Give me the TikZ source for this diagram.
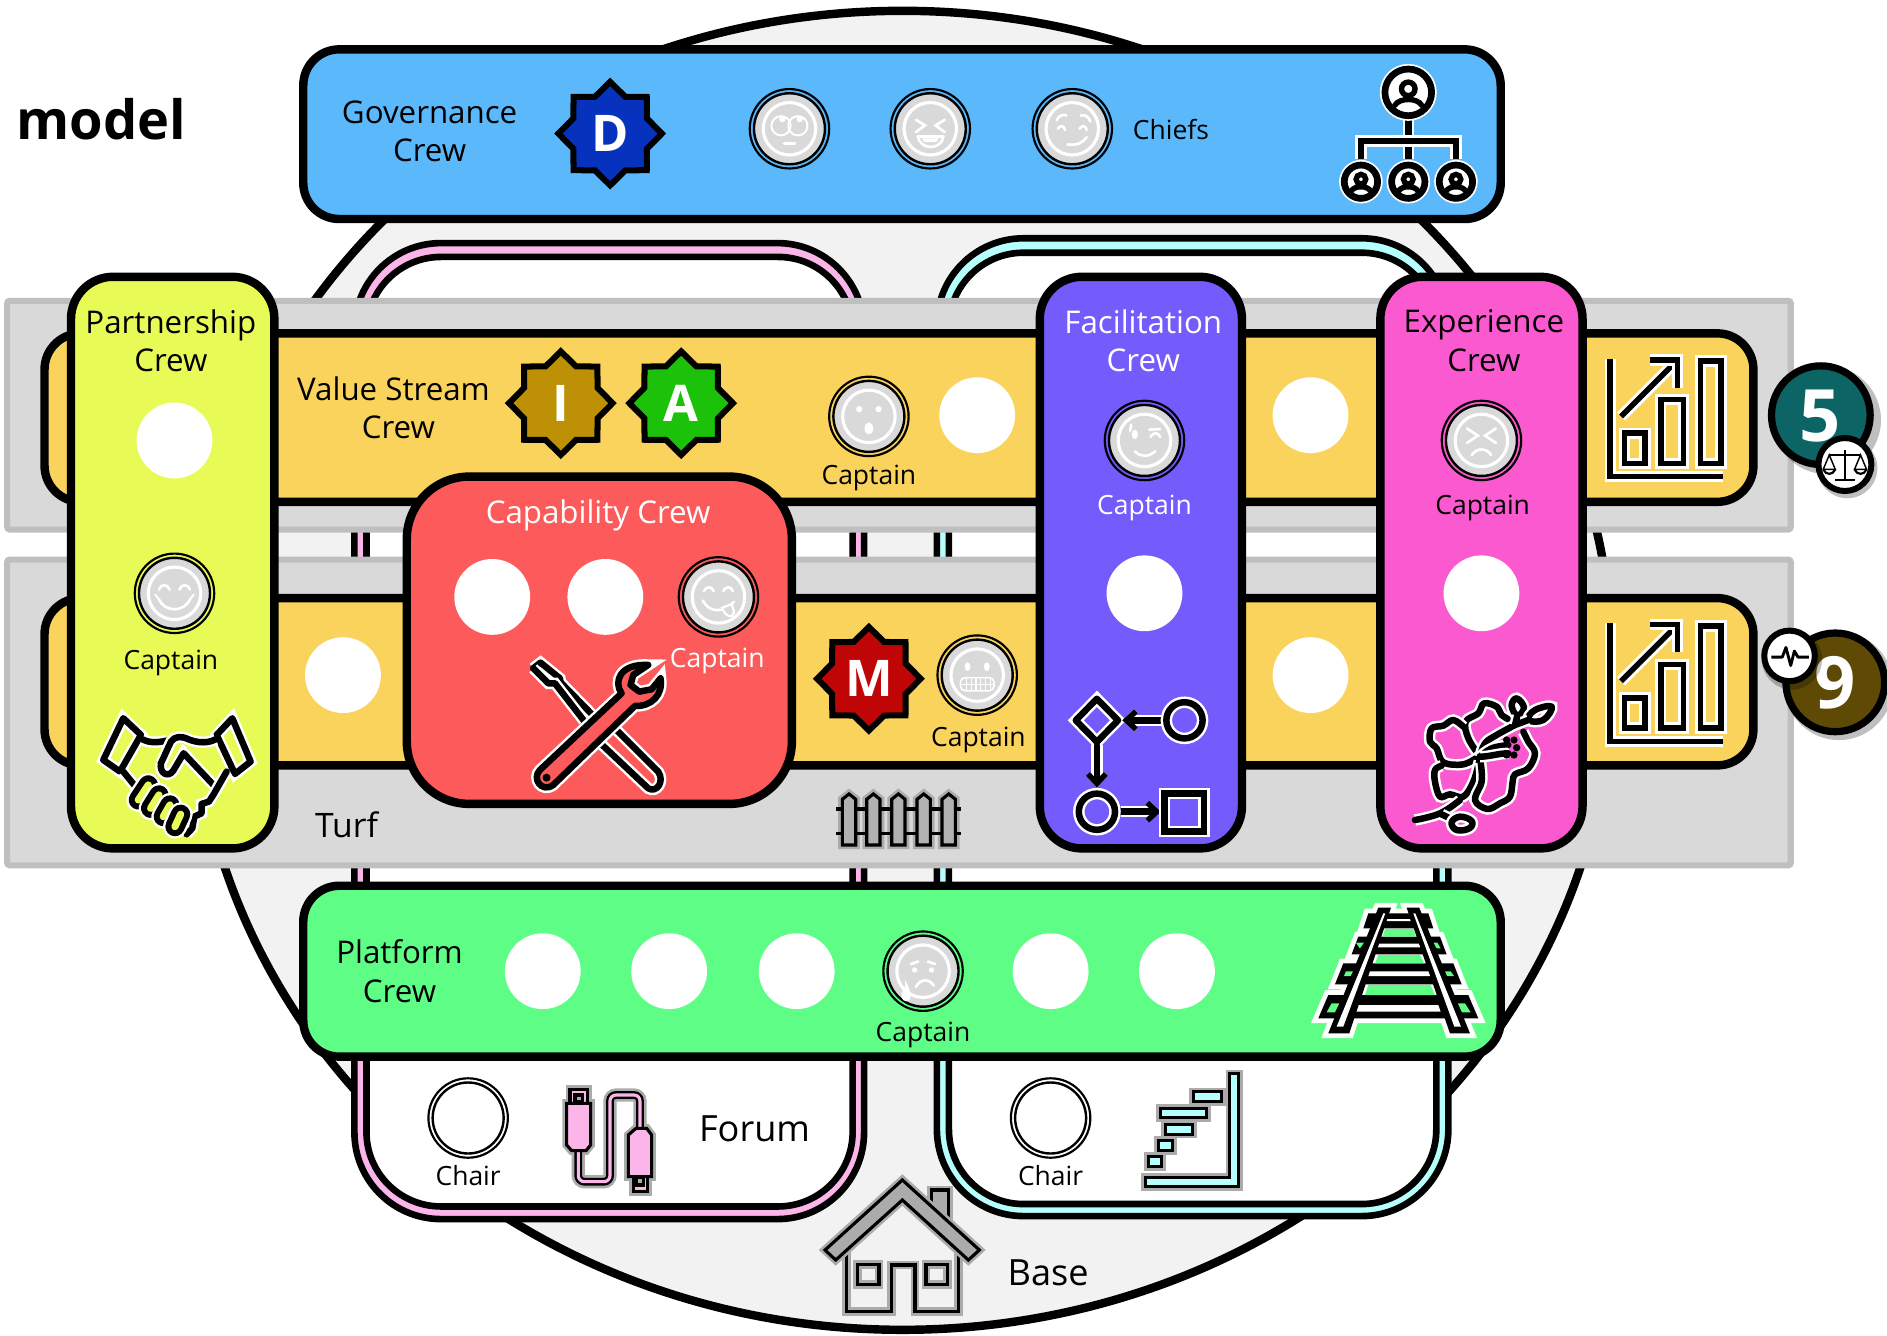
\documentclass[tikz,border=0pt]{standalone}
\usepackage{fontspec}
\setmainfont{Open Sans}
\usetikzlibrary{shapes.geometric,arrows.meta}
\definecolor{govc}{HTML}{5BB9FB}
\definecolor{platc}{HTML}{5EFD86}
\definecolor{partc}{HTML}{E8FA55}
\definecolor{capc}{HTML}{FD5B5B}
\definecolor{facc}{HTML}{745CFC}
\definecolor{expc}{HTML}{FB59CF}
\definecolor{strc}{HTML}{F9D35B}
\definecolor{turfc}{HTML}{D9D9D9}
\definecolor{turfb}{HTML}{BFBFBF}
\definecolor{basec}{HTML}{F2F2F2}
\definecolor{pinkc}{HTML}{FBB5E9}
\definecolor{cyanc}{HTML}{B5FFFD}
\definecolor{coinc}{HTML}{D9D9D9}
\definecolor{glowg}{HTML}{ABABAB}
\tikzset{
 crew/.style={draw=black,line width=7,rounded corners=#1},
 crew/.default=30,
 turfband/.style={fill=turfc,draw=turfb,line width=5,rounded corners=2},
 lbl/.style={inner sep=0,align=center,font=\fontsize{26}{32}\selectfont},
 small/.style={inner sep=0,font=\fontsize{22}{26}\selectfont},
 blankc/.style={fill=white,draw=none},
 starb/.style={star,star points=8,star point ratio=1.3,minimum size=86,inner sep=0,draw=black,line width=5,text=white,font=\fontsize{42}{42}\selectfont\bfseries},
 icon/.style={draw=black,line width=5.4,line join=round,line cap=round,preaction={draw=white,line width=9.5}},
 gicon/.style={draw=black,line width=2.6,line join=miter,preaction={draw=glowg,line width=7}},
 fw/.style={draw=white,line width=2.2,line cap=round},
 fb/.style={fill=white,draw=none},
 tip/.style={-{Straight Barb[length=8pt,width=15pt,line width=4.6pt]}},
}
\newcommand{\coin}[2]{\begin{scope}[shift={#1}]
 \draw[black,line width=1.8] (0,0) circle[radius=33];
 \draw[black,line width=2,fill=coinc] (0,0) circle[radius=29.5];
 \draw[white,line width=2.6] (0,0) circle[radius=21.8];
 #2
\end{scope}}
\newcommand{\chairc}[1]{\begin{scope}[shift={#1}]
 \draw[black,line width=1.8] (0,0) circle[radius=33];
 \draw[black,line width=2] (0,0) circle[radius=29.5];
\end{scope}}
\newcommand{\person}[3]{\begin{scope}[shift={#1},scale=#2]
 \draw[white,line width=8.5] (0,0) circle[radius=1];
 \draw[black,fill=white,line width=#3] (0,0) circle[radius=1];
 \draw[black,line width=#3*.8] (0,-.15) circle[radius=.29];
 \draw[black,line width=#3*.8,line cap=round] (-.58,.56) .. controls (-.4,.22) and (.4,.22) .. (.58,.56);
\end{scope}}
\newcommand{\chart}[1]{\begin{scope}[shift={#1},icon/.append style={line width=4.6,preaction={draw=white,line width=8}}]
 \draw[icon,line cap=butt,line join=miter] (1338,298) -- (1338,396) -- (1432,396);
 \draw[icon,line cap=butt,line join=miter] (1350,360) rectangle (1367,385);
 \draw[icon,line cap=butt,line join=miter] (1380,332) rectangle (1399,385);
 \draw[icon,line cap=butt,line join=miter] (1413,300) rectangle (1430,385);
 \draw[icon,line cap=butt] (1347,346) -- (1392,301);
 \draw[icon,line cap=butt,line join=miter] (1371,299) -- (1394,299) -- (1394,322);
\end{scope}}
\begin{document}
\begin{tikzpicture}[x=1pt,y=-1pt]
\useasboundingbox (0,0) rectangle (1568,1110);
\fill[white] (0,0) rectangle (1568,1110);
% base
\draw[fill=basec,draw=black,line width=7] (750,557) ellipse [x radius=590,y radius=548];
% forums
\draw[fill=pinkc,draw=black,line width=5.5,rounded corners=72] (294.5,202) rectangle (718,1013);
\draw[fill=white,draw=black,line width=5.5,rounded corners=62] (304.5,213.5) rectangle (708.5,1002.5);
\draw[fill=cyanc,draw=black,line width=5.5,rounded corners=72] (778.5,198) rectangle (1203.5,1010.5);
\draw[fill=white,draw=black,line width=5.5,rounded corners=62] (788.5,210) rectangle (1193.5,1000.5);
% turf
\draw[turfband] (6,250) rectangle (1488,440);
\draw[turfband] (6,465) rectangle (1488,719);
% streams
\draw[crew,fill=strc] (37,277) rectangle (1457,417);
\draw[crew,fill=strc] (37,497) rectangle (1457,636);
% crews
\draw[crew,fill=govc] (252,41) rectangle (1247,182);
\draw[crew,fill=platc] (252,736) rectangle (1247,878);
\draw[crew=35,fill=partc] (59,230) rectangle (228,705);
\draw[crew=52,fill=capc] (338,396) rectangle (658,668);
\draw[crew=35,fill=facc] (864,230) rectangle (1032,705);
\draw[crew=35,fill=expc] (1147,230) rectangle (1315,705);
% texts
\node[inner sep=0,font=\fontsize{45}{45}\selectfont\bfseries] (model) at (84,99) {model};
\node[lbl] (gov) at (357,109) {Governance\\Crew};
\node[lbl] (vs) at (327,339) {Value Stream\\\hspace*{8pt}Crew};
\node[lbl] (part) at (142,283) {Partnership\\Crew};
\node[lbl,text=white] (cap) at (497,428) {Capability Crew};
\node[lbl,text=white] (fac) at (950,283) {Facilitation\\Crew};
\node[lbl] (exp) at (1233,283) {Experience\\Crew};
\node[lbl] (plat) at (332,807) {Platform\\Crew};
\node[lbl,font=\fontsize{28}{32}\selectfont] (turf) at (288,685) {Turf};
\node[lbl,font=\fontsize{30}{32}\selectfont] (forum) at (627,938) {Forum};
\node[lbl,font=\fontsize{30}{32}\selectfont] (base) at (871,1058) {Base};
\node[small] (chiefs) at (973,108) {Chiefs};
\node[small] (c1) at (722,397) {Captain};
\node[small] (c2) at (142,551) {Captain};
\node[small,text=white] (c3) at (596,549) {Captain};
\node[small] (c4) at (813,615) {Captain};
\node[small,text=white] (c5) at (951,422) {Captain};
\node[small] (c6) at (1232,422) {Captain};
\node[small] (c7) at (767,860) {Captain};
\node[small] (ch1) at (389,977) {Chair};
\node[small] (ch2) at (873,977) {Chair};
% stars
\node[starb,fill={rgb,255:red,6;green,50;blue,190}] (sd) at (507,111) {D};
\node[starb,fill={rgb,255:red,190;green,144;blue,5}] (si) at (466,335) {I};
\node[starb,fill={rgb,255:red,28;green,193;blue,10}] (sa) at (566,335) {A};
\node[starb,fill={rgb,255:red,191;green,5;blue,5}] (sm) at (722,564) {M};
% blank seats
\foreach \p in {(145,366),(812,345),(1089,345),(285,561),(1089,561),(409,496),(503,496),(951,493),(1231,493),(451,807),(556,807),(662,807),(873,807),(978,807)}
 \fill[blankc] \p circle[radius=31.5];
% coins
\coin{(656,107)}{\draw[fw,line width=1.6] (-7,-2.5) circle[radius=8]; \draw[fw,line width=1.6] (7,-2.5) circle[radius=8];
 \fill[fb] (-6,-8) circle[radius=2.6]; \fill[fb] (8.5,-8) circle[radius=2.6]; \draw[fw] (-4.5,12) -- (4.5,12);}
\coin{(773,107)}{\draw[fw] (-12,-7.5) -- (-4.4,-2.8) -- (-12,2.8); \draw[fw] (12,-7.5) -- (4.4,-2.8) -- (12,2.8);
 \draw[fw,line join=round] (-10.5,6.4) -- (11,6.4) .. controls (9,18) and (-8,18) .. (-10.5,6.4); \fill[fb] (-7,8) -- (7,8) -- (5,11) -- (-5,11) -- cycle;}
\coin{(891,107)}{\draw[fw] (-13,-7) .. controls (-11,-12) and (-6,-12) .. (-5,-11); \draw[fw] (7,-11) .. controls (10,-12) and (14,-10) .. (15,-6);
 \draw[fw] (-12,0) .. controls (-10,-3) and (-7,-3) .. (-6,1); \draw[fw] (6,0) .. controls (8,-3) and (11,-3) .. (12,1);
 \draw[fw] (-4,13) .. controls (3,14) and (9,12) .. (12,7);}
\coin{(722,346)}{\fill[fb] (-8,-6) circle[radius=2.6]; \fill[fb] (8,-6) circle[radius=2.6]; \fill[fb] (0,10) ellipse[x radius=3.6,y radius=5];}
\coin{(145,493)}{\draw[fw] (-13,-3) .. controls (-11,-8) and (-6,-8) .. (-4,-3); \draw[fw] (4,-3) .. controls (6,-8) and (11,-8) .. (13,-3);
 \draw[fw] (-13,5) .. controls (-8,16) and (8,16) .. (13,5); \draw[fw,line width=1.6] (-16,1) -- (-13,5); \draw[fw,line width=1.6] (16,1) -- (13,5);}
\coin{(597,496)}{\draw[fw] (-12,-5) .. controls (-10,-9) and (-6,-9) .. (-4,-5); \draw[fw] (4,-5) .. controls (6,-9) and (10,-9) .. (12,-5);
 \draw[fw] (-13,3) .. controls (-8,13) and (4,14) .. (13,4); \draw[fw,fill=coinc,line width=1.8] (3,9) -- (11,6) -- (13,13) .. controls (12,18) and (6,17) .. cycle;}
\coin{(812,561)}{\fill[fb] (-8,-7) ellipse[x radius=2.4,y radius=3.6]; \fill[fb] (8,-7) ellipse[x radius=2.4,y radius=3.6];
 \draw[fw,line width=1.3,rounded corners=4] (-14,2) rectangle (14,13); \foreach \q in {-9,-5,-1,3,7,11} \draw[fw,line width=.9] (\q,3) -- (\q,12); \draw[fw,line width=.9] (-14,7.5) -- (14,7.5);}
\coin{(951,366)}{\draw[fw] (-11,-13) -- (-12,-8); \fill[fb] (-8,-5) ellipse[x radius=2.6,y radius=4]; \draw[fw] (4,-9) -- (13,-9.5);\draw[fw] (5,-3) .. controls (8,-7) and (11,-7) .. (13,-3);
 \draw[fw] (-8,9) .. controls (-3,14) and (3,14) .. (9,9);}
\coin{(1231,366)}{\draw[fw] (-12,-10) -- (-3,-4) -- (-12,2); \draw[fw] (12,-10) -- (3,-4) -- (12,2); \draw[fw] (-8,12) .. controls (-4,6) and (4,6) .. (8,12);}
\coin{(767,807)}{\draw[fw] (-10,-6) -- (-4,-8); \draw[fw] (10,-6) -- (4,-8); \fill[fb] (-7,-1) circle[radius=2.2]; \fill[fb] (7,-1) circle[radius=2.2];
 \draw[fw] (-6,13) .. controls (-2,6) and (5,6) .. (9,12); \fill[fb] (-15,14) .. controls (-21,20) and (-17,25) .. (-14,25) .. controls (-10,25) and (-8,20) .. (-15,7) -- cycle;}
\chairc{(389,929)} \chairc{(873,929)}
% org icon
\begin{scope}[shift={(1105.1,49.9)},scale=.277]
 \draw[icon,line cap=butt,line join=miter,line width=5.4] (235,170) -- (235,298);
 \draw[icon,line cap=butt,line join=miter,line width=5.4] (93,298) -- (93,243) -- (378,243) -- (378,298);
 \person{(235,97)}{70}{5.6}
 \person{(93,365)}{50}{5.6}
 \person{(235,365)}{50}{5.6}
 \person{(378,365)}{50}{5.6}
\end{scope}
% charts
\chart{(0,0)}
\chart{(0,220)}
% handshake
\begin{scope}[shift={(70.6,581.6)},scale=.277]
 \draw[icon] (115,55) -- (168,105) -- (105,215) -- (55,180) -- cycle;
 \draw[icon] (442,55) -- (395,105) -- (450,222) -- (497,185) -- cycle;
 \draw[icon] (172,118) .. controls (195,130) and (220,128) .. (245,122);
 \draw[icon] (228,190) -- (258,125) .. controls (270,108) and (290,108) .. (310,118) .. controls (340,130) and (370,130) .. (392,118);
 \draw[icon] (228,190) .. controls (222,220) and (250,235) .. (265,212) -- (296,160) -- (392,262);
 \draw[icon] (115,215) -- (158,268);
 \draw[icon] (425,215) -- (385,285) -- (372,305) -- (350,312) -- (350,340) -- (328,350) -- (322,385) -- (305,403);
 \foreach \xa/\ya/\xb/\yb in {160/300/190/255,197/325/222/285,235/350/255/315,270/380/287/343}{
  \draw[white,line width=20,line cap=round] (\xa,\ya) -- (\xb,\yb);
  \draw[black,line width=16,line cap=round] (\xa,\ya) -- (\xb,\yb);
  \draw[partc,line width=6,line cap=round] (\xa,\ya) -- (\xb,\yb);}
\end{scope}
% tools
\begin{scope}[shift={(432,540.1)},scale=.277]
 \draw[icon] (40,55) -- (62,38) -- (120,85) -- (122,97) -- (218,195);
 \draw[icon] (40,55) -- (85,100) -- (105,100) -- (192,212);
 \draw[icon] (290,240) -- (415,365) .. controls (435,395) and (410,430) .. (385,415) -- (247,285);
 \draw[icon,fill=capc] (60,360) -- (305,130) .. controls (280,95) and (300,40) .. (385,45) -- (340,75) -- (332,105) -- (358,125) -- (395,118) -- (422,85) .. controls (430,135) and (395,170) .. (345,168) -- (100,405) .. controls (65,430) and (35,385) .. (60,360) -- cycle;
 \fill[black] (80,383) circle[radius=12];
\end{scope}
% fence
\begin{scope}[shift={(681.4,648.1)},scale=.277]
 \foreach \q in {87,160,235,311,386}
  \draw[draw=glowg,line width=7,line join=miter] (\q-20,195) -- (\q-20,58) -- (\q,42) -- (\q+20,58) -- (\q+20,195) -- cycle;
 \draw[black,line width=2.6] (48,87) -- (422,87);
 \draw[black,line width=2.6] (48,160) -- (422,160);
 \foreach \q in {87,160,235,311,386}
  \draw[draw=black,line width=2.6,fill=gray!45!turfc] (\q-20,195) -- (\q-20,58) -- (\q,42) -- (\q+20,58) -- (\q+20,195) -- cycle;
\end{scope}
% process icon
\begin{scope}[shift={(781,548.4)},xscale=.5018,yscale=.3582]
 \draw[icon] (260,90) -- (295,140) -- (260,190) -- (225,140) -- cycle;
 \draw[icon,tip] (368,140) -- (302,140);
 \draw[icon,tip] (260,198) -- (260,296);
 \draw[icon,tip] (300,352) -- (366,352);
 \draw[icon] (405,140) ellipse[x radius=30,y radius=42];
 \draw[icon] (260,352) ellipse[x radius=30,y radius=42];
 \draw[icon,line join=miter] (372,310) rectangle (437,398);
\end{scope}
% hibiscus
\begin{scope}[shift={(1163.3,569.2)},scale=.277]
 \draw[icon] plot[smooth,tension=.6] coordinates {(240,215)(205,160)(197,110)(235,85)(252,55)(290,65)(305,90)(335,108)};
 \draw[icon] plot[smooth,tension=.6] coordinates {(235,215)(190,238)(130,232)(110,190)(90,170)(95,130)(130,122)(160,105)(190,125)};
 \draw[icon] plot[smooth,tension=.6] coordinates {(238,228)(220,290)(190,335)(150,328)(120,335)(105,290)(105,255)(125,242)};
 \draw[icon] plot[smooth,tension=.6] coordinates {(242,232)(245,290)(225,345)(262,372)(300,355)(330,335)(338,290)(345,268)(385,250)(405,205)(385,170)(370,140)};
 \draw[icon] plot[smooth,tension=.7] coordinates {(240,215)(255,175)(290,150)(345,120)};
 \draw[icon] plot[smooth,tension=.7] coordinates {(240,215)(275,190)(325,180)};
 \draw[icon] (240,215) .. controls (270,215) and (295,205) .. (325,205);
 \foreach \a/\b in {320/165,342/165,350/188,342/210,320/210} \fill[black] (\a,\b) circle[radius=11];
 \draw[icon] plot[smooth,tension=.7] coordinates {(45,405)(120,385)(180,345)};
 \draw[icon] (125,388) -- (160,405);
 \draw[icon] plot[smooth cycle,tension=.7] coordinates {(155,412)(180,395)(215,408)(208,430)(170,435)};
 \draw[icon] plot[smooth cycle,tension=.7] coordinates {(350,40)(372,68)(352,92)(335,62)};
 \draw[icon] plot[smooth cycle,tension=.7] coordinates {(385,105)(405,75)(455,65)(430,105)};
 \draw[icon] (345,120) -- (352,92) (345,120) -- (385,105);
\end{scope}
% track
\begin{scope}[shift={(1088.5,743.7)},scale=.277]
 \draw[white,line width=8,line join=miter] (205,38) -- (243,38) -- (118,415) -- (55,415) -- cycle;
 \draw[white,line width=8,line join=miter] (290,38) -- (328,38) -- (480,415) -- (420,415) -- cycle;
 \foreach \la/\lb/\ra/\rb/\t/\b in {175/160/355/370/55/100, 145/125/390/410/125/178, 100/75/430/455/205/268, 55/25/475/505/300/370}{
  \draw[white,line width=8,line join=miter] (\la,\t) -- (\ra,\t) -- (\rb,\b) -- (\lb,\b) -- cycle;
 }
 \foreach \la/\lb/\ra/\rb/\t/\b in {175/160/355/370/55/100, 145/125/390/410/125/178, 100/75/430/455/205/268, 55/25/475/505/300/370}{
  \fill[black] (\la,\t) -- (\ra,\t) -- (\rb,\b) -- (\lb,\b) -- cycle;
 }
 \fill[platc] (225,102) -- (310,102) -- (318,125) -- (218,125) -- cycle;
 \fill[platc] (205,180) -- (330,180) -- (342,205) -- (195,205) -- cycle;
 \fill[platc] (175,270) -- (362,270) -- (375,300) -- (165,300) -- cycle;
 \fill[white] (230,72) -- (300,72) -- (302,78) -- (228,78) -- cycle;
 \fill[white] (205,146) -- (328,146) -- (332,157) -- (202,157) -- cycle;
 \fill[white] (178,229) -- (357,229) -- (362,243) -- (173,243) -- cycle;
 \fill[white] (140,330) -- (385,330) -- (392,350) -- (133,350) -- cycle;
 \fill[platc] (138,143) -- (162,143) -- (150,160) -- (148,158) -- cycle;
 \fill[platc] (108,229) -- (130,229) -- (122,243) -- (102,243) -- cycle;
 \fill[platc] (65,325) -- (88,325) -- (75,352) -- (50,352) -- cycle;
 \fill[platc] (370,143) -- (382,143) -- (392,160) -- (380,160) -- cycle;
 \fill[platc] (402,229) -- (422,229) -- (432,243) -- (412,243) -- cycle;
 \fill[platc] (442,325) -- (465,325) -- (482,352) -- (456,352) -- cycle;
 \fill[black] (205,38) -- (243,38) -- (118,415) -- (55,415) -- cycle;
 \fill[black] (290,38) -- (328,38) -- (480,415) -- (420,415) -- cycle;
 \fill[white] (220,55) -- (226,55) -- (100,395) -- (80,395) -- cycle;
 \fill[white] (310,55) -- (316,55) -- (453,395) -- (433,395) -- cycle;
\end{scope}
% usb
\begin{scope}[shift={(457,880.8)},scale=.277]
 \draw[draw=glowg,line width=11,rounded corners=5] (85,272) -- (85,365) -- (180,365) -- (180,105) -- (270,105) -- (270,205);
 \draw[draw=glowg,line width=7] (60,88) rectangle (112,130);
 \draw[draw=glowg,line width=7] (50,130) -- (122,130) -- (122,255) -- (108,272) -- (65,272) -- (50,255) -- cycle;
 \draw[draw=glowg,line width=7] (250,350) rectangle (292,395);
 \draw[draw=glowg,line width=7] (258,205) -- (290,205) -- (305,225) -- (305,350) -- (235,350) -- (235,225) -- cycle;
 \draw[draw=black,line width=6.5,rounded corners=5] (85,272) -- (85,365) -- (180,365) -- (180,105) -- (270,105) -- (270,205);
 \draw[draw=pinkc,line width=2.6,rounded corners=5] (85,272) -- (85,365) -- (180,365) -- (180,105) -- (270,105) -- (270,205);
 \draw[draw=black,line width=2.6,fill=pinkc] (60,88) rectangle (112,130);
 \draw[draw=black,line width=2.6,fill=pinkc] (50,130) -- (122,130) -- (122,255) -- (108,272) -- (65,272) -- (50,255) -- cycle;
 \draw[draw=black,line width=2.6,fill=glowg] (75,105) rectangle (98,125);
 \draw[draw=black,line width=2.6,fill=pinkc] (250,350) rectangle (292,395);
 \draw[draw=black,line width=2.6,fill=pinkc] (258,205) -- (290,205) -- (305,225) -- (305,350) -- (235,350) -- (235,225) -- cycle;
 \draw[draw=black,line width=2.6,fill=glowg] (258,352) rectangle (280,375);
\end{scope}
% stairs
\begin{scope}[shift={(781,548.4)},xscale=.5018,yscale=.3582]
 \draw[gicon,fill=cyanc] (480,960) -- (495,960) -- (495,1222) -- (340,1222) -- (340,1200) -- (480,1200) -- cycle;
 \draw[gicon,fill=cyanc] (420,1002) rectangle (467,1024);
 \draw[gicon,fill=cyanc] (365,1040) rectangle (442,1062);
 \draw[gicon,fill=cyanc] (373,1078) rectangle (418,1100);
 \draw[gicon,fill=cyanc] (362,1115) rectangle (385,1138);
 \draw[gicon,fill=cyanc] (345,1152) rectangle (367,1175);
\end{scope}
% house
\begin{scope}[shift={(681.4,972.2)},scale=.277]
 \draw[gicon] (80,245) -- (80,425) -- (215,425) -- (215,285) -- (285,285) -- (285,425) -- (415,425) -- (415,245);
 \draw[gicon,fill=glowg] (335,100) -- (335,60) -- (385,60) -- (385,150);
 \draw[gicon,fill=glowg] (247,30) -- (478,240) -- (445,270) -- (247,90) -- (47,270) -- (15,240) -- cycle;
 \draw[gicon] (113,283) rectangle (177,343);
 \draw[gicon] (318,283) rectangle (382,343);
\end{scope}
% badges
\fill[black,opacity=.25] (1518,349) circle[radius=45];
\draw[fill={rgb,255:red,12;green,100;blue,100},draw=black,line width=6] (1513,345) circle[radius=41];
\node[inner sep=0,text=white,font=\fontsize{60}{60}\selectfont\bfseries] (five) at (1512,346) {5};
\fill[black,opacity=.25] (1535,389) circle[radius=25];
\draw[fill=white,draw=black,line width=5] (1533,386) circle[radius=22];
\begin{scope}[shift={(1533,386)}]
 \draw[black,line width=2] (0,-12) -- (0,12) (-8,13) -- (8,13) (-13,-8) -- (13,-8);
 \draw[black,line width=1.2] (-13,-8) -- (-18,4) -- (-8,4) -- cycle (13,-8) -- (18,4) -- (8,4) -- cycle;
 \draw[black,line width=1.8] (-18,4) .. controls (-16,9) and (-10,9) .. (-8,4) (18,4) .. controls (16,9) and (10,9) .. (8,4);
\end{scope}
\fill[black,opacity=.25] (1528,570) circle[radius=45];
\draw[fill={rgb,255:red,94;green,74;blue,5},draw=black,line width=6] (1525,567) circle[radius=41];
\node[inner sep=0,text=white,font=\fontsize{60}{60}\selectfont\bfseries] (nine) at (1525,567) {9};
\fill[black,opacity=.25] (1489,548) circle[radius=25];
\draw[fill=white,draw=black,line width=5] (1487,545) circle[radius=21];
\draw[black,line width=2.4,line join=round] (1472,546) -- (1481,546) -- (1484,538) -- (1488,553) -- (1491,541) -- (1494,546) -- (1503,546);
\end{tikzpicture}
\end{document}
